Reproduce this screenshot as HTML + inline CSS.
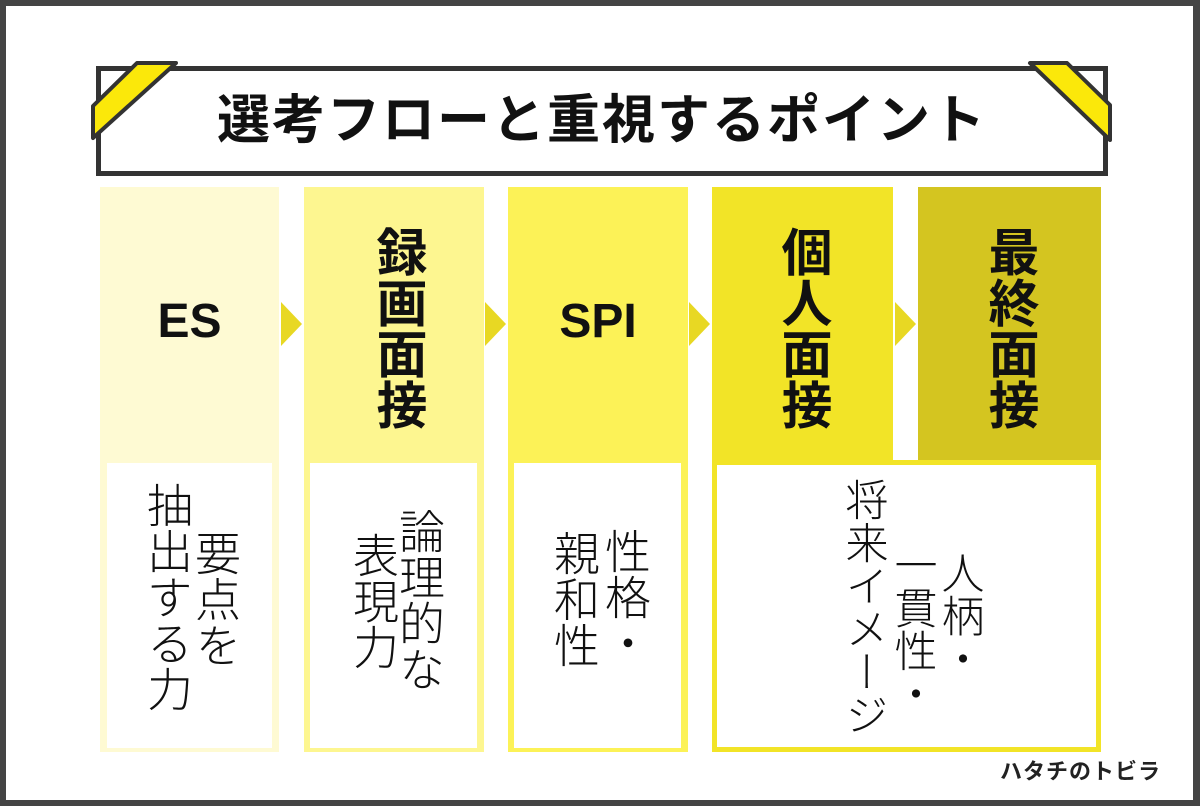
<!DOCTYPE html>
<html><head><meta charset="utf-8"><style>
*{margin:0;padding:0;box-sizing:border-box}
body{width:1200px;height:806px;position:relative;background:#fff;overflow:hidden;font-family:"Liberation Sans","Noto Sans CJK JP",sans-serif}
.frame{position:absolute;left:0;top:0;width:1200px;height:806px;border:6px solid #444;border-right-width:7px}
.abs{position:absolute}
.title{left:96px;top:66px;width:1012px;height:110px;border:5px solid #333;background:#fff}
.tt{left:96px;top:66px;width:1012px;height:110px;text-align:center;line-height:110px;font-size:53px;font-weight:bold;color:#111;letter-spacing:2px}
.col{position:absolute;top:187px}
.hd{position:absolute;font-weight:bold;color:#111}
.v{position:absolute;writing-mode:vertical-rl;color:#111;font-weight:300;white-space:nowrap}
.vb{position:absolute;writing-mode:vertical-rl;color:#111;font-weight:bold;font-size:51px;line-height:51px;white-space:nowrap;top:226px}
.wb{position:absolute;background:#fff}
</style></head><body>
<div class="frame"></div>
<div class="abs title"></div>
<svg class="abs" style="left:0;top:0" width="1200" height="200">
<polygon points="137,63 176,63 93,138 93,106" fill="#fbe80a" stroke="#333" stroke-width="4" stroke-linejoin="round"/>
<polygon points="1030,63 1067,63 1110,105 1110,140" fill="#fbe80a" stroke="#333" stroke-width="4" stroke-linejoin="round"/>
</svg>
<div class="abs tt">選考フローと重視するポイント</div>

<div class="col" style="left:100px;width:179px;height:565px;background:#fefad3"></div>
<div class="col" style="left:304px;width:180px;height:565px;background:#fdf690"></div>
<div class="col" style="left:508px;width:180px;height:565px;background:#fcf257"></div>
<div class="col" style="left:712px;width:181px;height:274px;background:#f2e427"></div>
<div class="col" style="left:918px;width:183px;height:274px;background:#d4c520"></div>
<div class="abs" style="left:712px;top:460px;width:389px;height:292px;background:#f2e427"></div>

<div class="wb" style="left:107px;top:463px;width:165px;height:285px"></div>
<div class="wb" style="left:310px;top:463px;width:167px;height:285px"></div>
<div class="wb" style="left:514px;top:463px;width:167px;height:285px"></div>
<div class="wb" style="left:717px;top:465px;width:379px;height:282px"></div>

<svg class="abs" style="left:0;top:290px" width="1200" height="70">
<polygon points="281,12 302,34 281,56" fill="#e8d823"/>
<polygon points="485,12 506,34 485,56" fill="#e8d823"/>
<polygon points="689,12 710,34 689,56" fill="#e8d823"/>
<polygon points="895,12 916,34 895,56" fill="#e8d823"/>
</svg>

<div class="hd" style="left:100px;width:179px;top:294px;text-align:center;font-size:48px;line-height:56px">ES</div>
<div class="hd" style="left:508px;width:180px;top:294px;text-align:center;font-size:48px;line-height:56px">SPI</div>
<div class="vb" style="left:372px">録画面接</div>
<div class="vb" style="left:777px">個人面接</div>
<div class="vb" style="left:984px">最終面接</div>

<div class="v" style="left:144px;top:482px;font-size:46px;line-height:46px">抽出する力</div>
<div class="v" style="left:192px;top:530px;font-size:46px;line-height:46px">要点を</div>
<div class="v" style="left:396px;top:508px;font-size:46px;line-height:46px">論理的な</div>
<div class="v" style="left:350px;top:532px;font-size:46px;line-height:46px">表現力</div>
<div class="v" style="left:602px;top:528px;font-size:46px;line-height:46px">性格・</div>
<div class="v" style="left:551px;top:530px;font-size:46px;line-height:46px">親和性</div>
<div class="v" style="left:841px;top:478px;font-size:43px;line-height:43px">将来イメージ</div>
<div class="v" style="left:890px;top:543px;font-size:43px;line-height:43px">一貫性・</div>
<div class="v" style="left:937px;top:551px;font-size:43px;line-height:43px">人柄・</div>

<div class="abs" style="left:1000px;top:758px;font-size:22px;font-weight:bold;color:#222;letter-spacing:1px;line-height:28px">ハタチのトビラ</div>
</body></html>
